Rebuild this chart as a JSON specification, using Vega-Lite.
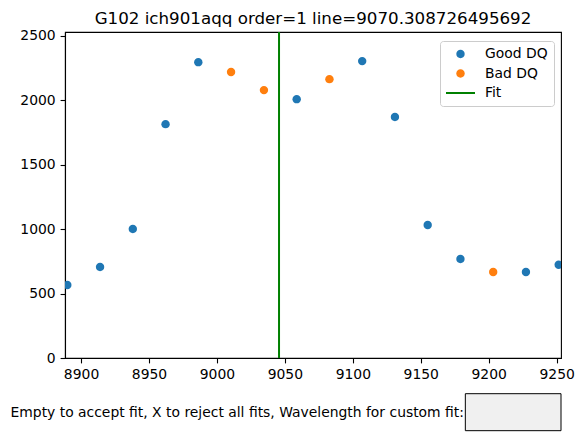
{
  "$schema": "https://vega.github.io/schema/vega-lite/v6.json",
  "width": 496,
  "height": 326,
  "autosize": "none",
  "padding": {"left": 65, "top": 32, "right": 22, "bottom": 87},
  "background": "white",
  "title": {
    "text": "G102 ich901aqq order=1 line=9070.308726495692",
    "fontSize": 16.7,
    "fontWeight": "normal",
    "font": "DejaVu Sans",
    "color": "black",
    "anchor": "middle",
    "frame": "group",
    "baseline": "alphabetic",
    "offset": 8,
    "dy": 20
  },
  "config": {
    "font": "DejaVu Sans",
    "view": {"stroke": "black", "strokeWidth": 1.1},
    "axis": {
      "grid": false,
      "domainColor": "black",
      "domainWidth": 1.1,
      "tickColor": "black",
      "tickWidth": 1.1,
      "tickSize": 4.9,
      "labelPadding": 4.9,
      "labelFontSize": 13.9,
      "labelFont": "DejaVu Sans",
      "labelColor": "black",
      "labelFlush": false,
      "labelOverlap": false
    }
  },
  "layer": [
    {
      "data": {
        "values": [
          {"wl": 8889.9, "flux": 566, "dq": "Good DQ"},
          {"wl": 8914.0, "flux": 706, "dq": "Good DQ"},
          {"wl": 8938.1, "flux": 1001, "dq": "Good DQ"},
          {"wl": 8962.2, "flux": 1815, "dq": "Good DQ"},
          {"wl": 8986.3, "flux": 2296, "dq": "Good DQ"},
          {"wl": 9010.4, "flux": 2219, "dq": "Bad DQ"},
          {"wl": 9034.6, "flux": 2079, "dq": "Bad DQ"},
          {"wl": 9058.7, "flux": 2009, "dq": "Good DQ"},
          {"wl": 9082.8, "flux": 2164, "dq": "Bad DQ"},
          {"wl": 9106.9, "flux": 2304, "dq": "Good DQ"},
          {"wl": 9131.0, "flux": 1870, "dq": "Good DQ"},
          {"wl": 9155.1, "flux": 1032, "dq": "Good DQ"},
          {"wl": 9179.2, "flux": 768, "dq": "Good DQ"},
          {"wl": 9203.3, "flux": 667, "dq": "Bad DQ"},
          {"wl": 9227.4, "flux": 667, "dq": "Good DQ"},
          {"wl": 9251.5, "flux": 724, "dq": "Good DQ"}
        ]
      },
      "mark": {"type": "point", "filled": true, "opacity": 1, "size": 841, "clip": true},
      "encoding": {
        "x": {
          "field": "wl",
          "type": "quantitative",
          "scale": {"domain": [8888.2, 9253.2], "nice": false, "zero": false},
          "axis": {
            "values": [8900, 8950, 9000, 9050, 9100, 9150, 9200, 9250],
            "format": "d",
            "title": "Empty to accept fit, X to reject all fits, Wavelength for custom fit:",
            "titleX": -55,
            "titleY": 54,
            "titleAlign": "left",
            "titleBaseline": "middle",
            "titleAngle": 0,
            "titleFontSize": 13.9,
            "titleFontWeight": "normal",
            "titleFont": "DejaVu Sans",
            "titleColor": "black"
          }
        },
        "y": {
          "field": "flux",
          "type": "quantitative",
          "scale": {"domain": [0, 2530], "nice": false, "zero": false},
          "axis": {
            "values": [0, 500, 1000, 1500, 2000, 2500],
            "format": "d",
            "title": null
          }
        },
        "shape": {
          "field": "dq",
          "type": "nominal",
          "scale": {
            "domain": ["Good DQ", "Bad DQ", "Fit"],
            "range": [
              "M0.29,0A0.29,0.29,0,1,1,-0.29,0A0.29,0.29,0,1,1,0.29,0Z",
              "M0.29,0A0.29,0.29,0,1,1,-0.29,0A0.29,0.29,0,1,1,0.29,0Z",
              "M-1,-0.07L1,-0.07L1,0.07L-1,0.07Z"
            ]
          },
          "legend": {
            "orient": "none",
            "legendX": 375,
            "legendY": 9,
            "title": null,
            "padding": 6,
            "strokeColor": "#cccccc",
            "fillColor": "rgba(255,255,255,0.8)",
            "cornerRadius": 3,
            "labelFontSize": 13.9,
            "labelFont": "DejaVu Sans",
            "labelColor": "black",
            "labelOffset": 10,
            "symbolSize": 841,
            "symbolStrokeWidth": 0,
            "symbolOpacity": 1,
            "clipHeight": 14,
            "rowPadding": 5.5
          }
        },
        "color": {
          "field": "dq",
          "type": "nominal",
          "scale": {
            "domain": ["Good DQ", "Bad DQ", "Fit"],
            "range": ["#1f77b4", "#ff7f0e", "#008000"]
          },
          "legend": {
            "orient": "none",
            "legendX": 375,
            "legendY": 9,
            "title": null,
            "padding": 6,
            "strokeColor": "#cccccc",
            "fillColor": "rgba(255,255,255,0.8)",
            "cornerRadius": 3,
            "labelFontSize": 13.9,
            "labelFont": "DejaVu Sans",
            "labelColor": "black",
            "labelOffset": 10,
            "symbolSize": 841,
            "symbolStrokeWidth": 0,
            "symbolOpacity": 1,
            "clipHeight": 14,
            "rowPadding": 5.5
          }
        }
      }
    },
    {
      "data": {"values": [{}]},
      "mark": {"type": "rule", "strokeWidth": 2},
      "encoding": {
        "x": {"datum": 9045.7, "type": "quantitative"},
        "color": {"datum": "Fit"}
      }
    },
    {
      "data": {"values": [{}]},
      "mark": {"type": "rect", "fill": "#f0f0f0", "stroke": "black", "strokeWidth": 1, "clip": false},
      "encoding": {
        "x": {"datum": 9182.8, "type": "quantitative"},
        "x2": {"datum": 9253.2},
        "y": {"datum": -277, "type": "quantitative"},
        "y2": {"datum": -564}
      }
    }
  ]
}
